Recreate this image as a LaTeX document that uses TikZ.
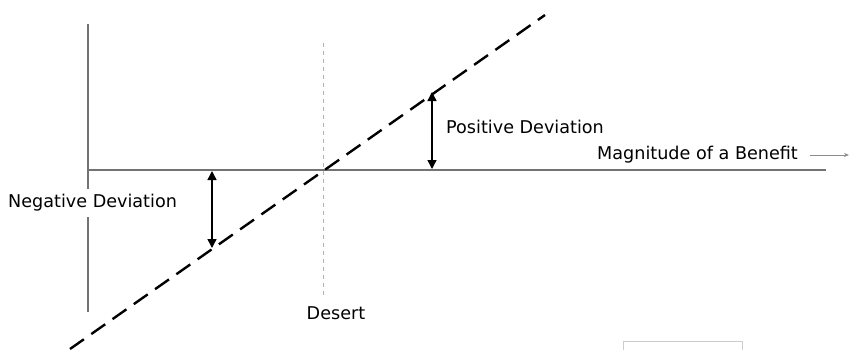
\documentclass[tikz,border=0pt]{standalone}
\usepackage{fontspec}
\setmainfont{DejaVu Sans}
\usetikzlibrary{arrows.meta}
\begin{document}
\begin{tikzpicture}[x=1pt,y=-1pt,
  axisline/.style={draw=black!55,line width=1.3pt},
  diag/.style={draw=black,line width=2.4pt,dash pattern=on 17pt off 9pt},
  guide/.style={draw=black!30,line width=1pt,dash pattern=on 4pt off 4pt},
  devarrow/.style={draw=black,line width=1.4pt,{Triangle[length=9pt,width=9pt]}-{Triangle[length=9pt,width=9pt]}},
  lbl/.style={font=\fontsize{17.6}{20}\selectfont,inner sep=0pt}]
\useasboundingbox (0,0) rectangle (850,349);
% axes
\coordinate (ytop) at (88,24);
\coordinate (ybot) at (88,312);
\coordinate (xleft) at (88,170);
\coordinate (xright) at (826,170);
\draw[axisline] (ytop) -- (ybot);
\draw[axisline] (xleft) -- (xright);
% desert guide
\coordinate (gtop) at (323,43);
\coordinate (gbot) at (323,296);
\draw[guide] (gtop) -- (gbot);
% diagonal
\coordinate (dstart) at (70,349);
\coordinate (dend) at (545,15);
\draw[diag] (dstart) -- (dend);
% deviation arrows
\coordinate (na) at (212,171);
\coordinate (nb) at (212,248);
\coordinate (pa) at (432,92);
\coordinate (pb) at (432,169);
\draw[devarrow] (na) -- (nb);
\draw[devarrow] (pa) -- (pb);
% labels
\node[lbl,anchor=west,fill=white,inner xsep=2pt,inner ysep=5pt] (neg) at (6,203) {Negative Deviation};
\node[lbl,anchor=west] (pos) at (446,127) {Positive Deviation};
\node[lbl] (des) at (336,313) {Desert};
\node[lbl,anchor=west] (mag) at (597,155) {Magnitude of a Benefit};
\coordinate (sa) at (810,155);
\coordinate (sb) at (849,155);
\draw[draw=black!45,line width=0.9pt,-{Stealth[length=5pt,width=4pt]}] (sa) -- (sb);
% bottom right box
\coordinate (b1) at (623,360);
\coordinate (b2) at (742,341);
\draw[draw=black!20,line width=1pt] (b1) rectangle (b2);
\end{tikzpicture}
\end{document}
